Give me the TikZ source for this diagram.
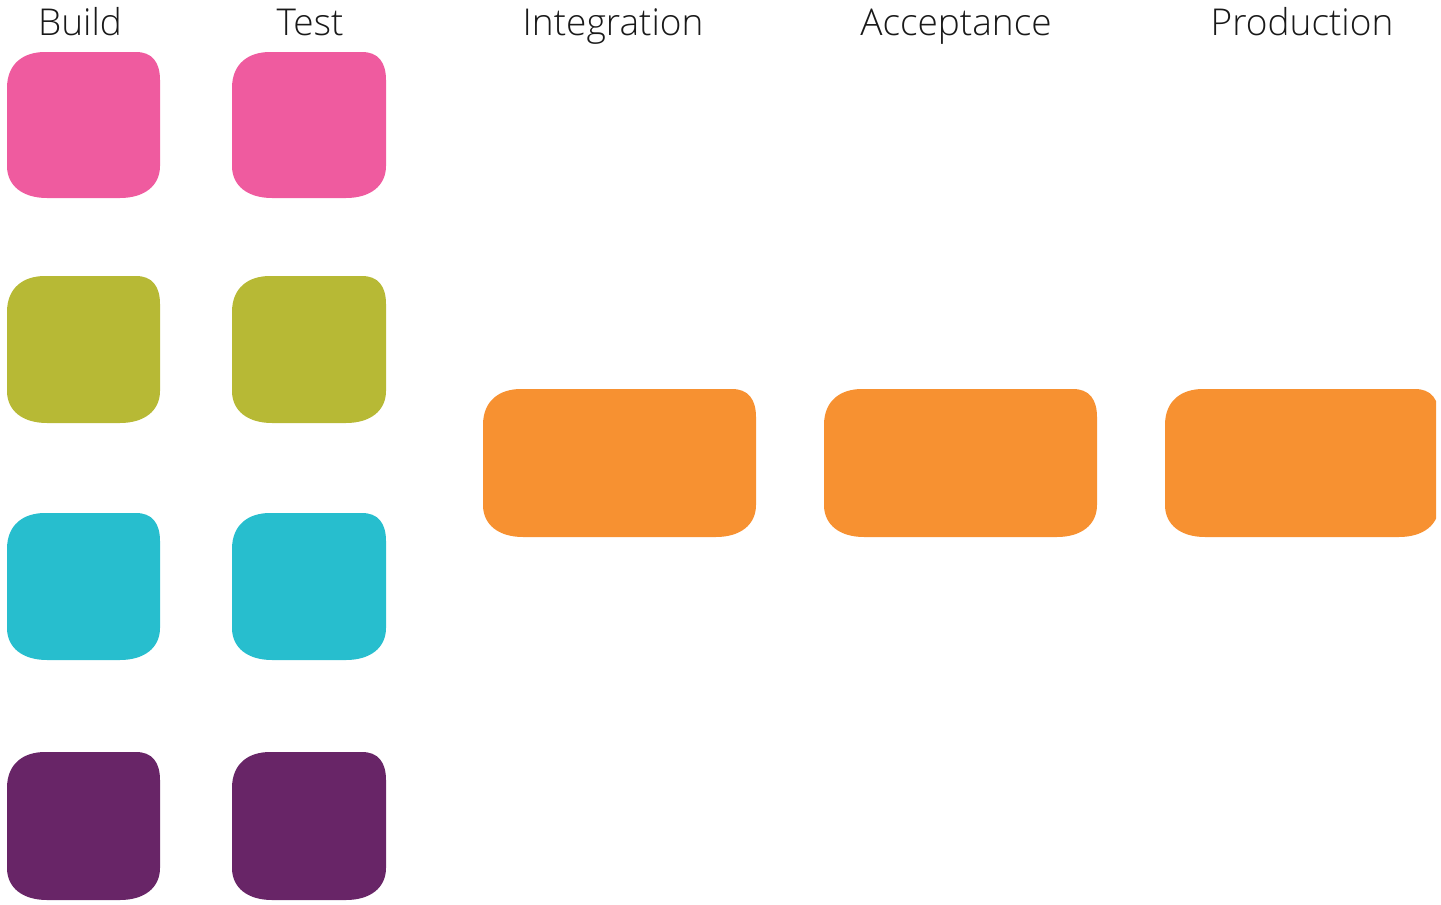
\documentclass[tikz,border=0pt]{standalone}
\usepackage{fontspec}
\setmainfont{Open Sans Light}
\definecolor{cpink}{RGB}{239,91,159}
\definecolor{colive}{RGB}{183,185,53}
\definecolor{ccyan}{RGB}{39,190,206}
\definecolor{cpurple}{RGB}{104,37,103}
\definecolor{corange}{RGB}{247,145,49}
\newcommand\myblob[5]{\fill[#5] (#1+38,#2) -- (#3-24,#2) .. controls (#3-8,#2) and (#3,#2+10) .. (#3,#2+28) -- (#3,#4-32) .. controls (#3,#4-12) and (#3-16,#4) .. (#3-40,#4) -- (#1+40,#4) .. controls (#1+16,#4) and (#1,#4-12) .. (#1,#4-32) -- (#1,#2+36) .. controls (#1,#2+12) and (#1+16,#2) .. (#1+38,#2) -- cycle;}
\begin{document}
\begin{tikzpicture}[x=1pt,y=-1pt,
  lbl/.style={anchor=base,inner sep=0pt,font=\fontsize{37}{40}\selectfont,text=black!90}]
\useasboundingbox (0,0) rectangle (1441,905);
\node[lbl] (build) at (80,35) {Build};
\node[lbl] (test) at (310,35) {Test};
\node[lbl] (integ) at (613,35) {Integration};
\node[lbl] (accept) at (956,35) {Acceptance};
\node[lbl] (prod) at (1302,35) {Production};
% Build / Test columns
\myblob{7}{52}{160}{198}{cpink}
\myblob{232}{52}{386}{198}{cpink}
\myblob{7}{276}{160}{423}{colive}
\myblob{232}{276}{386}{423}{colive}
\myblob{7}{513}{160}{660}{ccyan}
\myblob{232}{513}{386}{660}{ccyan}
\myblob{7}{752}{160}{900}{cpurple}
\myblob{232}{752}{386}{900}{cpurple}
% stages
\myblob{483}{389}{756}{537}{corange}
\myblob{824}{389}{1097}{537}{corange}
\begin{scope}
\clip (0,0) rectangle (1436,905);
\myblob{1165}{389}{1439}{537}{corange}
\end{scope}
\end{tikzpicture}
\end{document}
